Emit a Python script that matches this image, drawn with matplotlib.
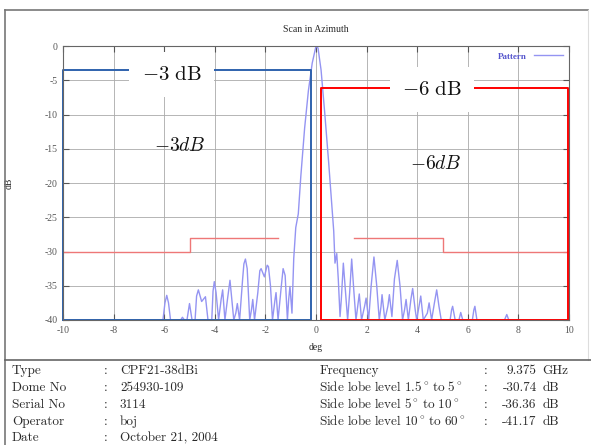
import matplotlib
matplotlib.use("Agg")
import matplotlib.pyplot as plt
from matplotlib.lines import Line2D

plt.rcParams["mathtext.fontset"] = "cm"
plt.rcParams["axes.unicode_minus"] = False
plt.rcParams["axes.formatter.use_mathtext"] = False

deg = [-10, -6.05, -5.97, -5.9, -5.83, -5.75, -5.35, -5.28, -5.2, -5.1, -5.0, -4.9,
       -4.78, -4.72, -4.65, -4.52, -4.37, -4.27, -4.12, -4.07, -4.02, -3.95, -3.85,
       -3.75, -3.69, -3.6, -3.5, -3.4, -3.3, -3.25, -3.17, -3.11, -3.02, -2.9, -2.85,
       -2.79, -2.72, -2.62, -2.55, -2.5, -2.43, -2.3, -2.22, -2.17, -2.04, -1.93,
       -1.88, -1.8, -1.72, -1.62, -1.58, -1.5, -1.37, -1.3, -1.22, -1.13, -1.08,
       -1.03, -0.95, -0.88, -0.8, -0.7, -0.6, -0.45, -0.3, -0.15, 0.0, 0.08, 0.2,
       0.35, 0.5, 0.62, 0.7, 0.75, 0.82, 0.88, 0.95, 1.0, 1.08, 1.17, 1.25, 1.33,
       1.41, 1.5, 1.58, 1.65, 1.71, 1.8, 1.92, 1.98, 2.08, 2.18, 2.29, 2.4, 2.5,
       2.57, 2.61, 2.72, 2.84, 2.9, 3.0, 3.1, 3.21, 3.32, 3.42, 3.5, 3.56, 3.65,
       3.75, 3.82, 3.92, 3.98, 4.07, 4.14, 4.24, 4.4, 4.47, 4.57, 4.68, 4.77, 4.86,
       4.95, 5.3, 5.36, 5.4, 5.5, 5.65, 5.72, 5.8, 6.18, 6.24, 6.28, 6.36, 7.45,
       7.54, 7.62, 10]
db = [-40, -40, -37.5, -36.4, -37.5, -40, -40, -39.6, -40, -40, -37.6, -40,
      -40, -36.5, -35.6, -37.3, -36.6, -40, -40, -35.8, -34.4, -36, -40,
      -37, -35.6, -40, -37, -34.2, -38, -40, -39, -37.6, -40, -34, -31.8,
      -31.1, -32.5, -40, -38.5, -37.0, -40, -36, -32.8, -32.5, -33.7, -32.0,
      -32.2, -35, -40, -37, -36.0, -40, -35, -32.5, -33.5, -40, -37,
      -35.1, -39, -31, -26.5, -24.5, -19, -12, -6.5, -2.5, 0, -0.3, -3.5,
      -10, -17, -23, -27, -31.7, -30.3, -34, -39.5, -37, -31.7, -36, -40, -36,
      -31.1, -36, -40, -38, -36.2, -40, -38, -36.8, -40, -35, -30.8, -35, -40,
      -38, -36.3, -40, -38, -36.3, -39.5, -34, -31.3, -35, -40, -38.5, -37.0, -40,
      -37, -35.4, -38.5, -40, -38, -36.5, -40, -39, -37.5, -40, -37.5, -35.6, -38,
      -40, -40, -38.5, -38.0, -40, -40, -38.9, -40, -40, -38.5, -38.0, -40, -40,
      -39.2, -40, -40]

# side lobe mask
mask_left_x = [-10, -5, -5, -1.5]
mask_left_y = [-30, -30, -28, -28]
mask_right_x = [1.5, 5, 5, 10]
mask_right_y = [-28, -28, -30, -30]

# beamwidth boxes
box3_x = [-10, -10, -0.2, -0.2, -10]
box3_y = [-40, -3.5, -3.5, -40, -40]
box6_x = [0.2, 0.2, 9.95, 9.95, 0.2]
box6_y = [-40, -6.2, -6.2, -40, -40]

xticks = list(range(-10, 11, 2))
yticks = list(range(0, -41, -5))

info_left = [("Type", "CPF21-38dBi"), ("Dome No", "254930-109"),
             ("Serial No", "3114"), ("Operator", "boj"),
             ("Date", "October 21, 2004")]
info_right = [("Frequency", "9.375", "GHz"),
              (r"$\mathrm{Side\ lobe\ level\ 1.5^\circ\!\ to\ 5^\circ}$", "-30.74", "dB"),
              (r"$\mathrm{Side\ lobe\ level\ 5^\circ\!\ to\ 10^\circ}$", "-36.36", "dB"),
              (r"$\mathrm{Side\ lobe\ level\ 10^\circ\!\ to\ 60^\circ}$", "-41.17", "dB")]

SERIF = ["cmr10", "DejaVu Serif"]
TXT = "#2a2a2a"

fig = plt.figure(figsize=(5.91, 4.45), dpi=100)

# outer frame + separator
fig.add_artist(Line2D([0.009, 0.995], [0.978, 0.978], color="#777777", lw=1.2))
fig.add_artist(Line2D([0.009, 0.009], [0.0, 0.978], color="#777777", lw=1.2))
fig.add_artist(Line2D([0.995, 0.995], [0.19, 0.978], color="#dddddd", lw=0.8))
fig.add_artist(Line2D([0.009, 1.0], [0.19, 0.19], color="#666666", lw=1.2))

ax = fig.add_axes([0.1066, 0.2809, 0.8562, 0.6157])
ax.plot(deg, db, color="#9494f2", lw=1.0, label="Pattern")
ax.plot(mask_left_x, mask_left_y, color="#ee7777", lw=1.0)
ax.plot(mask_right_x, mask_right_y, color="#ee7777", lw=1.0)
ax.plot(box3_x, box3_y, color="#2f62ad", lw=1.4, clip_on=False)
ax.plot(box6_x, box6_y, color="#ff0000", lw=1.4, clip_on=False)

ax.set_xlim(-10, 10)
ax.set_ylim(-40, 0)
ax.set_xticks(xticks)
ax.set_yticks(yticks)
ax.tick_params(direction="in", top=True, right=True, length=4, width=0.8,
               labelsize=7, colors="#555555", pad=4)
for lab in ax.get_xticklabels() + ax.get_yticklabels():
    lab.set_family("Liberation Serif")
ax.grid(True, color="#aaaaaa", lw=0.6)
for s in ax.spines.values():
    s.set_color("#666666")
    s.set_linewidth(0.8)

ax.set_title("Scan in Azimuth", fontsize=7, family="Liberation Serif",
             color=TXT, pad=10)
ax.set_xlabel("deg", fontsize=7, family="Liberation Serif", color=TXT, labelpad=6)
ax.set_ylabel("dB", fontsize=7, family="Liberation Serif", color=TXT, labelpad=22)

leg = ax.legend(loc="upper right", frameon=False, markerfirst=False,
                handlelength=3.2, borderaxespad=0.3,
                labelcolor="#5555cc", prop={"family": "Liberation Serif",
                                             "size": 6.5, "weight": "bold"})

box = dict(facecolor="white", edgecolor="none", pad=9)
ax.text(-5.7, -4.1, r"$-3\ \mathrm{dB}$", fontsize=15, ha="center",
        va="center", bbox=box, color="#111111")
ax.text(4.58, -6.3, r"$-6\ \mathrm{dB}$", fontsize=15, ha="center",
        va="center", bbox=box, color="#111111")
ax.text(-5.38, -14.5, r"$-3dB$", fontsize=14, ha="center", va="center",
        color="#111111")
ax.text(4.74, -17.1, r"$-6dB$", fontsize=14, ha="center", va="center",
        color="#111111")

# info table
row_y = [0.166, 0.128, 0.090, 0.052, 0.016]
for (k, v), y in zip(info_left, row_y):
    fig.text(0.020, y, k, fontsize=9.5, family=SERIF, color=TXT, va="center")
    fig.text(0.175, y, ":", fontsize=9.5, family=SERIF, color=TXT, va="center")
    fig.text(0.203, y, v, fontsize=9.5, family=SERIF, color=TXT, va="center")
for (k, v, u), y in zip(info_right, row_y):
    fig.text(0.540, y, k, fontsize=9.5, family=SERIF, color=TXT, va="center")
    fig.text(0.818, y, ":", fontsize=9.5, family=SERIF, color=TXT, va="center")
    fig.text(0.908, y, v, fontsize=9.5, family=SERIF, color=TXT, va="center",
             ha="right")
    fig.text(0.918, y, u, fontsize=9.5, family=SERIF, color=TXT, va="center")

fig.savefig("out.png", dpi=100)
